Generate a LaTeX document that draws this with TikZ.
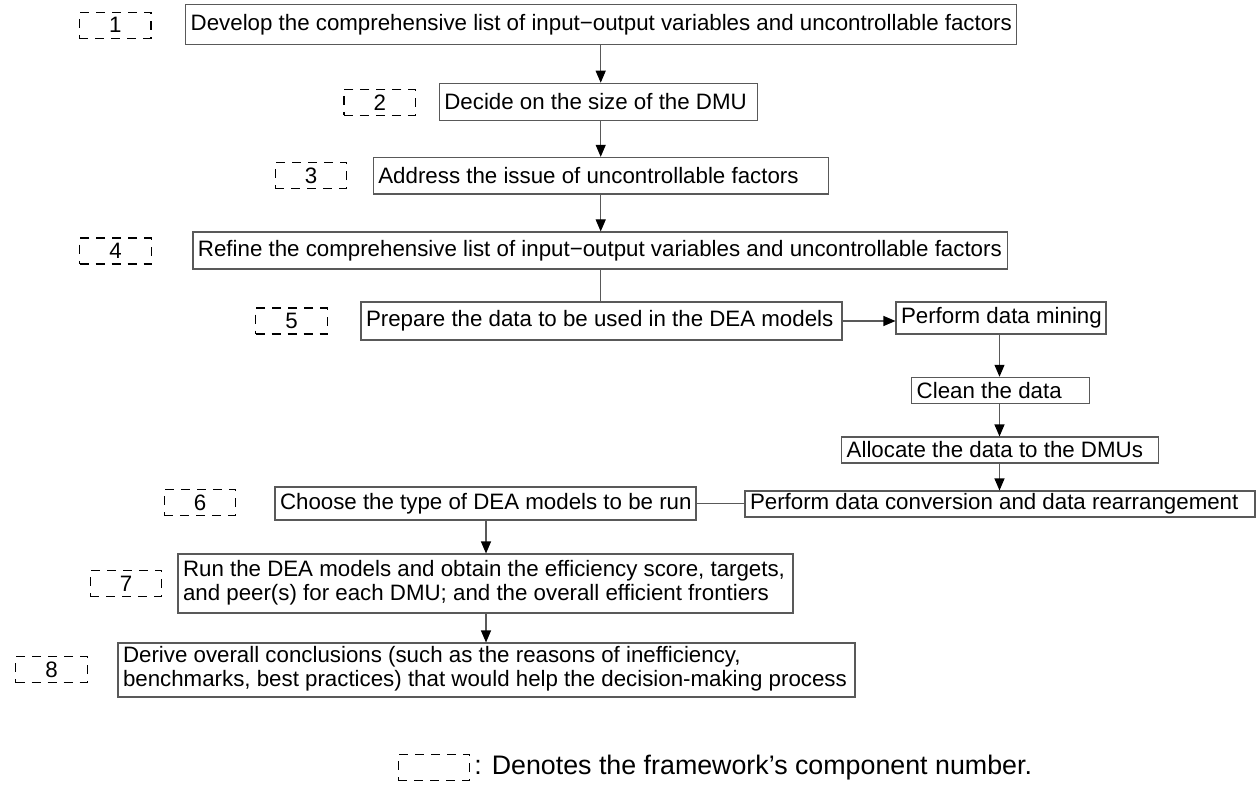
\documentclass[tikz,border=0pt]{standalone}
\usepackage{fontspec}
\setmainfont{Liberation Sans}
\usetikzlibrary{arrows.meta}
\newcommand{\lbx}[2]{\makebox[#1][l]{#2}}
\begin{document}
\begin{tikzpicture}[x=0.5pt,y=-0.5pt,
  bx/.style={draw=black!65, line width=0.55pt, inner xsep=2.5pt, inner ysep=0pt,
    font=\fontsize{11.15pt}{12pt}\selectfont, anchor=center},
  num/.style={draw=black, dash pattern=on 4.5pt off 3.5pt, line width=0.6pt,
    minimum width=35.85pt, minimum height=13pt, inner sep=0pt,
    font=\fontsize{11.15pt}{12pt}\selectfont},
  conn/.style={draw=black!65, line width=0.55pt},
  arr/.style={conn, -{Triangle[width=5pt,length=6pt,color=black]}}
]
\useasboundingbox (0,0) rectangle (1257,786);

% main boxes
\node[bx, minimum width=415.5pt, minimum height=20pt] (b1) at (601.2,24.3)
  {\lbx{410.5pt}{Develop the comprehensive list of input−output variables and uncontrollable factors}};
\node[bx, minimum width=158.85pt, minimum height=18.7pt] (b2) at (598.2,102)
  {\lbx{153.85pt}{Decide on the size of the DMU}};
\node[bx, minimum width=227.35pt, minimum height=18.35pt] (b3) at (600.7,175.7)
  {\lbx{222.35pt}{Address the issue of uncontrollable factors}};
\node[bx, minimum width=407.35pt, minimum height=18.5pt] (b4) at (600.3,250.5)
  {\lbx{402.35pt}{Refine the comprehensive list of input−output variables and uncontrollable factors}};
\node[bx, minimum width=240.5pt, minimum height=19pt] (b5) at (601.5,321)
  {\lbx{235.5pt}{Prepare the data to be used in the DEA models}};
\node[bx, minimum width=105pt, minimum height=16pt] (b5a) at (1001,318)
  {\lbx{100pt}{Perform data mining}};
\node[bx, minimum width=88.8pt, minimum height=13pt] (b5b) at (1000.5,390.3)
  {\lbx{83.8pt}{Clean the data}};
\node[bx, minimum width=158.3pt, minimum height=13pt] (b5c) at (1000,450)
  {\lbx{153.3pt}{Allocate the data to the DMUs}};
\node[bx, minimum width=255pt, minimum height=13pt] (b5d) at (1000,504)
  {\lbx{250pt}{Perform data conversion and data rearrangement}};
\node[bx, minimum width=210.5pt, minimum height=16.5pt] (b6) at (485.5,503.5)
  {\lbx{205.5pt}{Choose the type of DEA models to be run}};
\node[bx, minimum width=307.5pt, minimum height=29.5pt] (b7) at (485.5,583.5)
  {\lbx{302.5pt}{\begin{tabular}{@{}l@{}}Run the DEA models and obtain the efficiency score, targets,\\ and peer(s) for each DMU; and the overall efficient frontiers\end{tabular}}};
\node[bx, minimum width=368.5pt, minimum height=27pt] (b8) at (486.5,670)
  {\lbx{363.5pt}{\begin{tabular}{@{}l@{}}Derive overall conclusions (such as the reasons of inefficiency,\\ benchmarks, best practices) that would help the decision-making process\end{tabular}}};

% component numbers
\node[num] (n1) at (115.2,25.3) {1};
\node[num] (n2) at (379.8,102.3) {2};
\node[num] (n3) at (311,175.5) {3};
\node[num] (n4) at (115.5,251) {4};
\node[num] (n5) at (291.5,321) {5};
\node[num] (n6) at (200,502.5) {6};
\node[num] (n7) at (126,583.5) {7};
\node[num] (n8) at (51.5,669.5) {8};

% legend
\node[num] (lg) at (434,767.5) {};
\node[anchor=west, inner sep=0pt, font=\fontsize{13.4pt}{15pt}\selectfont] (lgt) at (474,768)
  {: Denotes the framework’s component number.};

% connectors
\coordinate (c1) at (600.7,0);
\coordinate (c2) at (999.5,0);
\coordinate (c3) at (486,0);
\draw[arr] (b1.south -| c1) -- (b2.north -| c1);
\draw[arr] (b2.south -| c1) -- (b3.north -| c1);
\draw[arr] (b3.south -| c1) -- (b4.north -| c1);
\draw[conn] (b4.south -| c1) -- (b5.north -| c1);
\draw[arr] (b5.east) -- (b5.east -| b5a.west);
\draw[arr] (b5a.south -| c2) -- (b5b.north -| c2);
\draw[arr] (b5b.south -| c2) -- (b5c.north -| c2);
\draw[arr] (b5c.south -| c2) -- (b5d.north -| c2);
\draw[conn] (b6.east) -- (b6.east -| b5d.west);
\draw[arr] (b6.south -| c3) -- (b7.north -| c3);
\draw[arr] (b7.south -| c3) -- (b8.north -| c3);
\end{tikzpicture}
\end{document}
